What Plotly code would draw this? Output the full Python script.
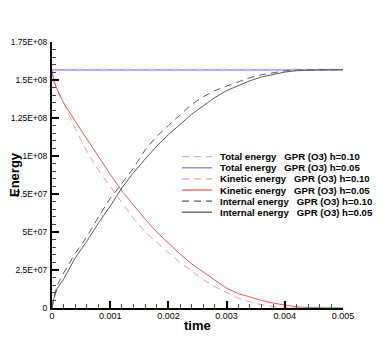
import numpy as np
import plotly.graph_objects as go

# time samples (s)
time = [0, 0.00003, 0.00009, 0.0002, 0.0004, 0.0006, 0.0008, 0.001, 0.0012, 0.0014,
        0.0016, 0.0018, 0.002, 0.0022, 0.0024, 0.0026, 0.0028, 0.003, 0.0032, 0.0034,
        0.0036, 0.0038, 0.004, 0.0042, 0.0044, 0.0046, 0.0048, 0.005]

# energies in units of 1e8
total_h010 = [1.568] * len(time)
total_h005 = [1.567] * len(time)
kinetic_h010 = [1.568, 1.49, 1.425, 1.35, 1.18, 1.03, 0.905, 0.80, 0.69, 0.59,
                0.50, 0.43, 0.365, 0.30, 0.24, 0.185, 0.14, 0.10, 0.065, 0.04,
                0.022, 0.01, 0.004, 0.001, 0.0, 0.0, 0.0, 0.0]
kinetic_h005 = [1.568, 1.50, 1.436, 1.35, 1.228, 1.11, 0.99, 0.88, 0.77, 0.675,
                0.585, 0.50, 0.425, 0.355, 0.29, 0.235, 0.18, 0.13, 0.095, 0.07,
                0.05, 0.032, 0.018, 0.008, 0.003, 0.001, 0.0, 0.0]
internal_h010 = [0.0, 0.07, 0.15, 0.23, 0.36, 0.47, 0.60, 0.72, 0.82, 0.92,
                 1.04, 1.13, 1.20, 1.27, 1.34, 1.39, 1.43, 1.46, 1.49, 1.515,
                 1.535, 1.55, 1.56, 1.565, 1.567, 1.568, 1.568, 1.568]
internal_h005 = [0.0, 0.06, 0.13, 0.19, 0.33, 0.44, 0.56, 0.67, 0.79, 0.89,
                 0.98, 1.065, 1.14, 1.21, 1.275, 1.33, 1.385, 1.43, 1.465, 1.495,
                 1.52, 1.538, 1.552, 1.561, 1.565, 1.567, 1.568, 1.568]

series_names = [
    "Total energy\u00a0\u00a0\u00a0GPR (O3) h=0.10",
    "Total energy\u00a0\u00a0\u00a0GPR (O3) h=0.05",
    "Kinetic energy\u00a0\u00a0\u00a0GPR (O3) h=0.10",
    "Kinetic energy\u00a0\u00a0\u00a0GPR (O3) h=0.05",
    "Internal energy\u00a0\u00a0\u00a0GPR (O3) h=0.10",
    "Internal energy\u00a0\u00a0\u00a0GPR (O3) h=0.05",
]
series_values = [total_h010, total_h005, kinetic_h010, kinetic_h005, internal_h010, internal_h005]
series_colors = ["#c4aefc", "#8a74e6", "#f49a9a", "#e85a5a", "#5a5a5a", "#5a5a5a"]
series_dash = ["7px,5px", "solid", "7px,5px", "solid", "7px,5px", "solid"]
series_width = [2, 1.2, 1, 1, 1, 1]

y_tickvals = [0, 2.5e7, 5e7, 7.5e7, 1e8, 1.25e8, 1.5e8, 1.75e8]
y_ticktext = ["0", "2.5E+07", "5E+07", "7.5E+07", "1E+08", "1.25E+08", "1.5E+08", "1.75E+08"]
x_tickvals = [0, 0.001, 0.002, 0.003, 0.004, 0.005]
x_ticktext = ["0", "0.001", "0.002", "0.003", "0.004", "0.005"]

fig = go.Figure()
draw_order = [1, 0, 2, 3, 4, 5]
for i in draw_order:
    fig.add_trace(go.Scatter(
        x=time, y=np.array(series_values[i]) * 1e8, mode="lines",
        name=series_names[i], showlegend=False,
        line=dict(color=series_colors[i], dash=series_dash[i], width=series_width[i]),
    ))

FONT = "Liberation Sans, Arial, sans-serif"

# page has 8px default body margin: lay the figure out in page pixels minus 8
OFF = 8
W, H = 390 - OFF, 347 - OFF
plot_l, plot_r, plot_t, plot_b = 52 - OFF, 343 - OFF, 42 - OFF, 308 - OFF

def px_x(p):
    return (p - OFF - plot_l) / (plot_r - plot_l)

def px_y(p):
    return (plot_b - (p - OFF)) / (plot_b - plot_t)

shapes = []
annotations = []
row_y = [156.7, 167.8, 178.9, 190.0, 201.1, 212.2]
for i in range(6):
    shapes.append(dict(type="line", xref="paper", yref="paper",
                       x0=px_x(182), x1=px_x(212), y0=px_y(row_y[i]), y1=px_y(row_y[i]),
                       line=dict(color=series_colors[i], dash=series_dash[i], width=1.3)))
    annotations.append(dict(xref="paper", yref="paper", x=px_x(218), y=px_y(row_y[i]),
                            text="<b>" + series_names[i] + "</b>", showarrow=False,
                            xanchor="left", yanchor="middle",
                            font=dict(family=FONT, size=9.6, color="black")))

annotations.append(dict(xref="paper", yref="paper", x=0, y=0.5, xshift=-38,
                        text="<b>Energy</b>", textangle=-90, showarrow=False,
                        xanchor="center", yanchor="middle",
                        font=dict(family=FONT, size=13, color="black")))
annotations.append(dict(xref="paper", yref="paper", x=px_x(197), y=0, yshift=-17,
                        text="<b>time</b>", showarrow=False,
                        xanchor="center", yanchor="middle",
                        font=dict(family=FONT, size=13, color="black")))

fig.update_layout(
    width=W, height=H,
    margin=dict(l=plot_l, r=W - plot_r, t=plot_t, b=H - plot_b, autoexpand=False),
    paper_bgcolor="white", plot_bgcolor="white",
    showlegend=False,
    shapes=shapes, annotations=annotations,
    xaxis=dict(range=[0, 0.005], showgrid=False, zeroline=False, automargin=False,
               showline=True, linecolor="black", linewidth=2,
               tickmode="array", tickvals=x_tickvals, ticktext=x_ticktext,
               ticks="inside", ticklen=7, tickwidth=1.5, tickcolor="black",
               ticklabelstandoff=-2,
               minor=dict(ticks="inside", ticklen=4, tickwidth=1, tickcolor="#444",
                          dtick=0.0002, tick0=0, showgrid=False),
               tickfont=dict(family=FONT, size=9, color="black")),
    yaxis=dict(range=[0, 1.75e8], showgrid=False, zeroline=False, automargin=False,
               showline=True, linecolor="black", linewidth=2,
               tickmode="array", tickvals=y_tickvals, ticktext=y_ticktext,
               ticks="inside", ticklen=7, tickwidth=1.5, tickcolor="black",
               ticklabelstandoff=1,
               minor=dict(ticks="inside", ticklen=4, tickwidth=1, tickcolor="#444",
                          dtick=5e6, tick0=0, showgrid=False),
               tickfont=dict(family=FONT, size=8.5, color="black")),
)

fig.write_html("out.html")
